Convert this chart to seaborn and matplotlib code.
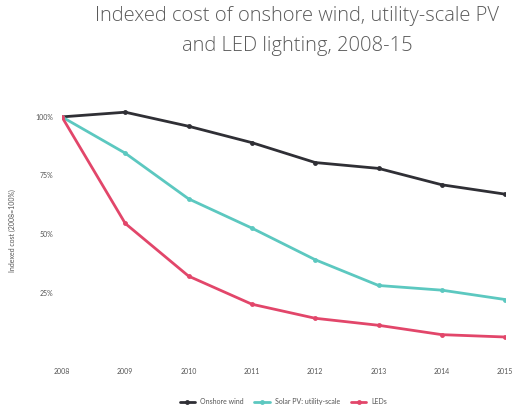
import pandas as pd
import numpy as np
import matplotlib.pyplot as plt
import seaborn as sns

sns.set_style("white")
plt.rcParams['font.family'] = ['Lato', 'DejaVu Sans']

years = [2008, 2009, 2010, 2011, 2012, 2013, 2014, 2015]
onshore_wind = [100, 102, 96, 89, 80.5, 78, 71, 67]
solar_pv = [100, 84.5, 65, 52.5, 39, 28, 26, 22]
leds = [100, 54.5, 32, 20, 14, 11, 7, 6]

series_names = ['Onshore wind', 'Solar PV: utility-scale', 'LEDs']
colores = ['#2f2f35', '#5cc8c0', '#e2466a']

df = pd.DataFrame({'Anio': years,
                   series_names[0]: onshore_wind,
                   series_names[1]: solar_pv,
                   series_names[2]: leds})
df_largo = df.melt(id_vars='Anio', var_name='Serie', value_name='Costo')

fig = plt.figure(figsize=(5.16, 4.13), dpi=100)
ax = fig.add_axes([0.12, 0.15, 0.859, 0.584])

sns.lineplot(data=df_largo, x='Anio', y='Costo', hue='Serie',
             palette=colores, hue_order=series_names, marker='o',
             markersize=3.5, markeredgewidth=0, linewidth=2.0, ax=ax)

ax.set_xlim(2008, 2015)
ax.set_ylim(0, 103)
ax.set_xticks(years)
ax.set_xticklabels([str(a) for a in years], fontsize=5, color='#555555')
ax.set_yticks([25, 50, 75, 100])
ax.set_yticklabels(['25%', '50%', '75%', '100%'], fontsize=5, color='#555555')
ax.tick_params(axis='x', pad=12, length=0)
ax.tick_params(axis='y', pad=6, length=0)
ax.set_xlabel('')
ax.set_ylabel('Indexed cost (2008=100%)', fontsize=5, color='#555555', labelpad=14)
for s in ax.spines.values():
    s.set_visible(False)

fig.suptitle('Indexed cost of onshore wind, utility-scale PV\nand LED lighting, 2008-15',
             x=0.576, y=0.985, fontsize=14.5, color='#5a5a5a', linespacing=1.65,
             family=['Open Sans', 'DejaVu Sans'], fontweight='light')

ax.legend(loc='upper center', bbox_to_anchor=(0.5, -0.17), ncol=3, frameon=False,
          fontsize=5, handlelength=2.2, columnspacing=1.5, labelcolor='#555555')

fig.savefig('out.png', dpi=100)
